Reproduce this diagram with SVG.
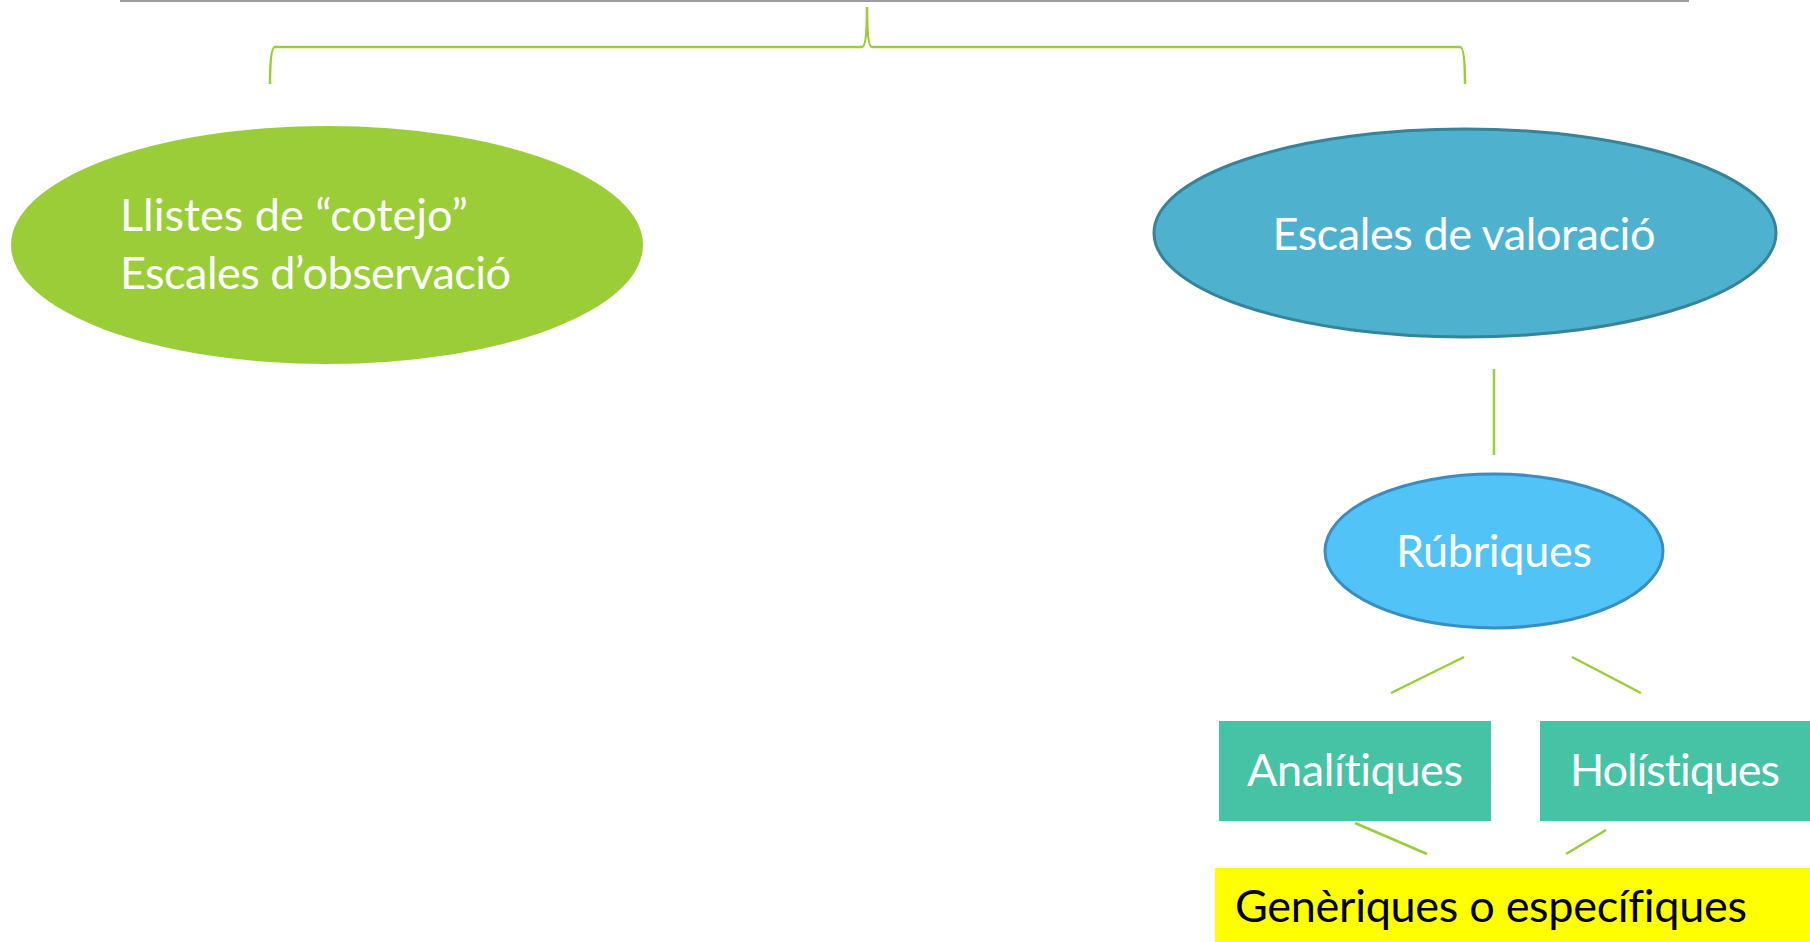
<svg xmlns="http://www.w3.org/2000/svg" width="1810" height="942" viewBox="0 0 1810 942">
<style>
.t{font-family:Lato,"Open Sans","Liberation Sans",sans-serif;font-size:45px;fill:#fff;font-variant-ligatures:none;font-feature-settings:"liga" 0}
.c{stroke:#9ACD38;stroke-width:2.5;fill:none}
</style>
<rect width="1810" height="942" fill="#fff"/>
<line x1="120" y1="1" x2="1689" y2="1" stroke="#9e9e9e" stroke-width="2"/>
<g id="connectors">
<path class="c" d="M270 84 Q270 47 275 47 L862 47 Q867 47 867 7 Q867 47 872 47 L1460 47 Q1465 47 1465 84"/>
<line class="c" x1="1494" y1="369" x2="1494" y2="455"/>
<line class="c" x1="1391" y1="693" x2="1464" y2="657"/>
<line class="c" x1="1572" y1="657" x2="1641" y2="693"/>
<line class="c" x1="1355" y1="823" x2="1427" y2="854"/>
<line class="c" x1="1606" y1="830" x2="1566" y2="854"/>
</g>
<g id="llistes">
<ellipse cx="327" cy="245" rx="316" ry="119" fill="#9ACD38"/>
<text class="t" x="120" y="231" textLength="348">Llistes de “cotejo”</text>
<text class="t" x="120" y="289" textLength="391">Escales d’observació</text>
</g>
<g id="escales">
<ellipse cx="1465" cy="233" rx="311" ry="104" fill="#4EB2CF" stroke="#36839A" stroke-width="3"/>
<text class="t" x="1464" y="250" text-anchor="middle" textLength="383">Escales de valoració</text>
</g>
<g id="rubriques">
<ellipse cx="1494" cy="551" rx="169" ry="77" fill="#52C3F7" stroke="#3A8DC0" stroke-width="3"/>
<text class="t" x="1494" y="567" text-anchor="middle" textLength="196">Rúbriques</text>
</g>
<g id="analitiques">
<rect x="1219" y="721" width="272" height="100" fill="#46C2A5"/>
<text class="t" x="1355" y="786" text-anchor="middle" textLength="216">Analítiques</text>
</g>
<g id="holistiques">
<rect x="1540" y="721" width="270" height="100" fill="#46C2A5"/>
<text class="t" x="1675" y="786" text-anchor="middle" textLength="210">Holístiques</text>
</g>
<g id="generiques">
<rect x="1215" y="868" width="595" height="74" fill="#FFFF00"/>
<text class="t" x="1235" y="922" style="fill:#000" textLength="512">Genèriques o específiques</text>
</g>
</svg>
